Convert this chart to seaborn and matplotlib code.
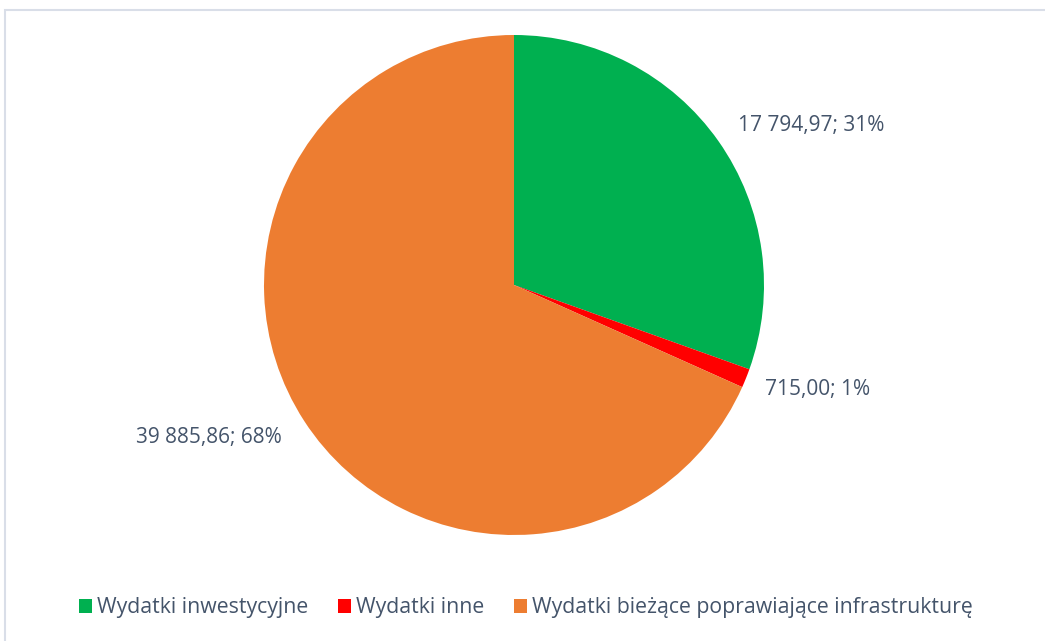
import matplotlib
matplotlib.use("Agg")
import matplotlib.pyplot as plt
import seaborn as sns
from matplotlib.patches import Rectangle

categories = ["Wydatki inwestycyjne", "Wydatki inne", "Wydatki bieżące poprawiające infrastrukturę"]
values = [17794.97, 715.00, 39885.86]
value_labels = ["17 794,97", "715,00", "39 885,86"]
percent_labels = ["31%", "1%", "68%"]
colors = ["#00B050", "#FF0000", "#ED7D31"]

sns.set_theme(style="white")
plt.rcParams['font.family'] = ['Open Sans', 'DejaVu Sans']
text_color = "#44546A"

W, H = 1045, 641
fig = plt.figure(figsize=(W / 100, H / 100), dpi=100)
fig.patch.set_facecolor("white")

# chart frame (light border)
fig.patches.append(Rectangle((5 / W, -0.05), 1.2, (H - 10) / H + 0.05,
                             transform=fig.transFigure, fill=False,
                             edgecolor="#D9DEE8", linewidth=1.5))

cx, cy, r = 514, 285, 250
ax = fig.add_axes([(cx - r) / W, (H - cy - r) / H, 2 * r / W, 2 * r / H])
wedges, _ = ax.pie(values, colors=colors, startangle=90, counterclock=False,
                   radius=1.0, wedgeprops=dict(linewidth=0))
ax.set_xlim(-1, 1)
ax.set_ylim(-1, 1)
ax.set_aspect("equal")
ax.axis("off")

label_pos = [(1.19, 0.64), (1.216, -0.416), (-1.22, -0.612)]
for (lx, ly), v, p in zip(label_pos, value_labels, percent_labels):
    ax.text(lx, ly, f"{v}; {p}", ha="center", va="center",
            fontsize=15, color=text_color)

leg = fig.legend(wedges, categories, loc="center", bbox_to_anchor=(526 / W, 1 - 608 / H),
                 ncol=3, frameon=False, fontsize=15.3, handlelength=0.6, handleheight=0.6,
                 handletextpad=0.25, columnspacing=1.4, labelcolor=text_color)

fig.savefig("out.png", dpi=100)
